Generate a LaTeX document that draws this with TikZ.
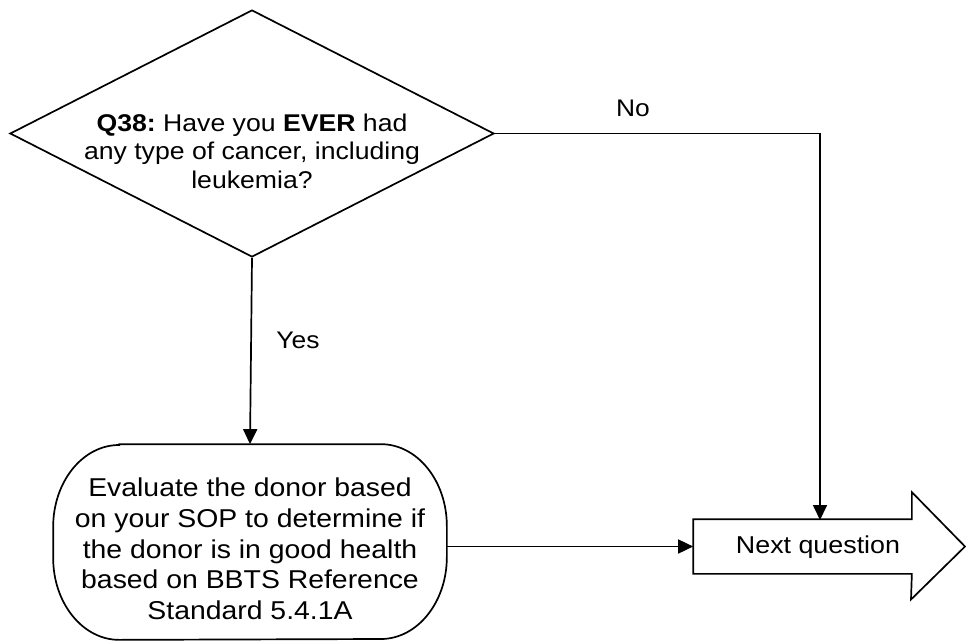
\documentclass[tikz,border=0pt]{standalone}
\usepackage{fontspec}
\setmainfont{Liberation Sans}[FakeStretch=1.1]
\usetikzlibrary{shapes.geometric,arrows.meta}
\frenchspacing
\begin{document}
\begin{tikzpicture}[x=1pt,y=-1pt,line width=1.7pt,
  every node/.style={font=\fontsize{24}{30}\selectfont},
  conn/.style={-{Triangle[length=15pt,width=14pt]},line width=1.7pt},
  shapebox/.style={draw,fill=white,inner sep=0pt}]
\useasboundingbox (0,0) rectangle (966,640);
% decision
\node[shapebox,diamond,aspect=1.96,minimum width=484pt,minimum height=247pt] (q) at (252,133.5) {};
\node[align=center,font=\fontsize{24.2}{28.5}\selectfont] (qt) at (252,151)
  {\textbf{Q38:} Have you \textbf{EVER} had\\any type of cancer, including\\leukemia?};
% evaluate box (rounded with elliptical corners)
\node[inner sep=0pt,minimum width=392pt,minimum height=194pt] (eval) at (250,542) {};
\draw[fill=white] ([xshift=66pt]eval.north west) -- ([xshift=-66pt]eval.north east)
  arc[start angle=90,end angle=0,x radius=66pt,y radius=82pt]
  -- ([yshift=-15pt]eval.east)
  arc[start angle=0,end angle=-90,x radius=66pt,y radius=82pt]
  -- ([xshift=66pt]eval.south west)
  arc[start angle=270,end angle=180,x radius=66pt,y radius=82pt]
  -- ([yshift=15pt]eval.west)
  arc[start angle=180,end angle=90,x radius=66pt,y radius=82pt] -- cycle;
\node[align=center,font=\fontsize{25.8}{30.7}\selectfont] (evt) at (250,549)
  {Evaluate the donor based\\on your SOP to determine if\\the donor is in good health\\based on BBTS Reference\\Standard 5.4.1A};
% next question arrow
\node[inner sep=0pt,minimum width=217pt,minimum height=53pt] (next) at (802.5,546.5) {};
\draw[fill=white] (next.north west) -- (next.north east) -- ++(0,-27) -- (965,546.5)
  -- (911,599.5) -- (next.south east) -- (next.south west) -- cycle;
\node[font=\fontsize{24.4}{30}\selectfont] (nt) at (818,547) {Next question};
\coordinate (nin) at (820,520);
% connectors
\draw[conn] (q.south) -- (eval.north);
\draw[conn] (q.east) -| (nin);
\draw[conn] (eval.east |- next.west) -- (next.west);
% labels
\node (no) at (633,108) {No};
\node (yes) at (298,340) {Yes};
\end{tikzpicture}
\end{document}
